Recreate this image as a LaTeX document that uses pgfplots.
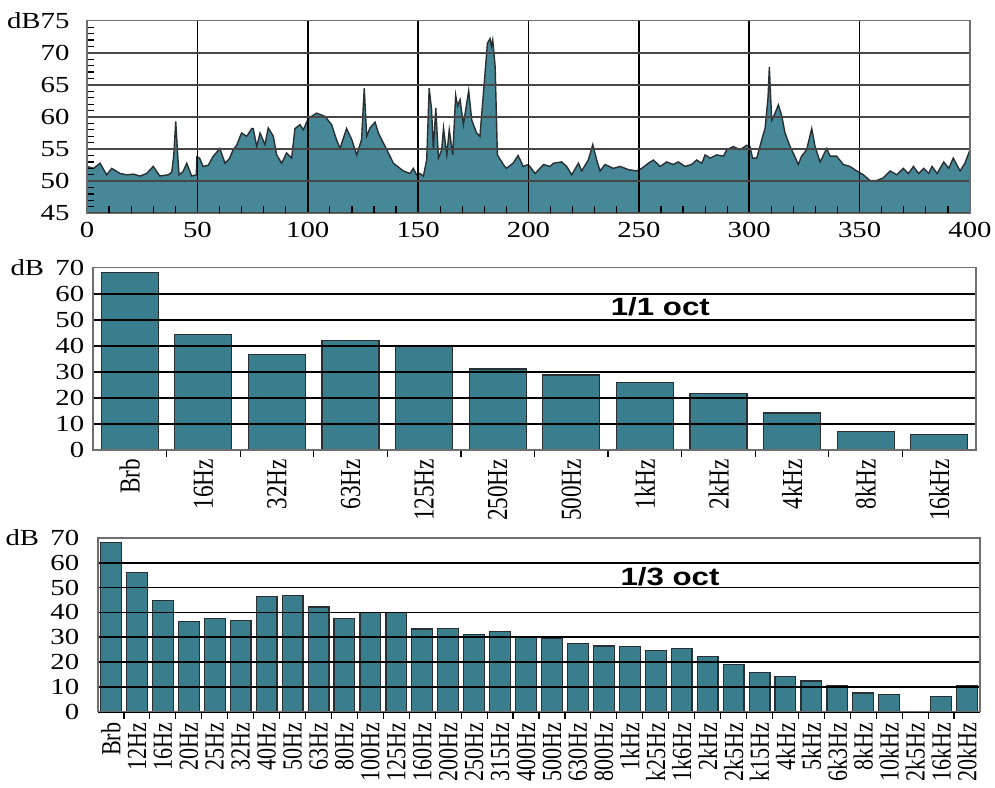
\documentclass[border=0pt]{standalone}
\usepackage{pgfplots}
\pgfplotsset{compat=1.18}
\usepackage{fontspec}
\setmainfont{Liberation Serif}
\newfontfamily\labsans{Liberation Sans}
\newfontfamily\narrowserif[FakeStretch=0.8]{Liberation Serif}
\definecolor{tealfill}{RGB}{58,126,142}
\definecolor{areafill}{RGB}{70,136,151}
\definecolor{edge}{RGB}{40,48,52}
\definecolor{gridc}{RGB}{70,70,70}
\definecolor{framec}{RGB}{110,110,110}
\pgfplotsset{
  common/.style={
    scale only axis, anchor=south west,
    axis line style={framec, line width=0.7pt},
    tick pos=left, tick align=inside,
    major tick length=0pt, minor tick length=3.5pt,
    every minor tick/.style={black, line width=0.6pt},
    axis on top,
    tick label style={font=\fontsize{11.5}{12}\selectfont},
  },
  hlab/.style={xscale=1.25},
}
\begin{document}
\begin{tikzpicture}
\useasboundingbox (0,0) rectangle (497.5pt,393.5pt);
% ---------------- top: spectrum ----------------
\begin{axis}[common,
  at={(43.5pt,286.85pt)}, width=441.5pt, height=96.3pt,
  xmin=0, xmax=400, ymin=45, ymax=75,
  xtick={0,50,...,400}, xticklabels={0,50,100,150,200,250,300,350,400},
  ytick={45,50,...,75}, yticklabels={45,50,55,60,65,70,dB75},
  minor x tick num=4, minor y tick num=4,
  xmajorgrids, ymajorgrids,
  x grid style={black, line width=0.8pt},
  y grid style={gridc, line width=0.8pt},
  xticklabel style={hlab, yshift=-1pt},
  yticklabel style={hlab, xshift=-3.5pt},
]
\addplot[fill=areafill, draw=edge, line width=0.7pt] coordinates {
(0,52.3)(3,52.0)(5.9,52.8)(8.9,51.0)(11.2,52.0)(15,51.2)(18,51.0)(21,51.1)(24,50.8)(27,51.2)
(30,52.3)(33,50.8)(36.8,51.0)(38.4,51.4)(39.3,54)(40.2,59.3)(41.1,54)(41.7,51.0)(43.5,51.5)(45.2,52.8)
(47.4,50.8)(49.5,51.0)(49.8,53.8)(51,53.6)(52.6,52.3)(55,52.5)(57,53.8)(60.2,55.1)(62.5,52.8)(64.5,53.5)
(66.2,54.9)(67.8,55.6)(70,57.5)(72.4,57.0)(74.6,58.2)(75.3,58.2)(76.9,55.4)(78.4,57.5)(80.6,55.7)(82.1,58.3)
(84.4,57)(85.9,54.1)(88.2,52.8)(90.4,54.4)(92.7,53.6)(94.2,58.2)(96.5,58.8)(98,58.0)(100.3,59.8)(104,60.6)
(107.8,60.1)(110.8,58.8)(113,56.5)(114.6,55.1)(117.6,58.2)(119.9,56.5)(122.2,54.1)(124.4,56.5)(125.2,62)(125.6,64.5)
(126.1,61)(126.7,57)(128.2,58.3)(130.5,59.2)(132,57.5)(135.8,54.9)(138.8,52.8)(143.3,51.6)(146.3,51.2)(147.8,52)
(149.3,51)(150.8,51.2)(152.4,50.8)(153.9,53.4)(155,64.5)(156.1,61.1)(156.9,54.9)(158,61.4)(159.2,53.6)(160.7,54.9)
(161.5,58.3)(163,54.1)(164.1,58)(165.7,54.1)(167,63.4)(167.9,61.7)(169,62.7)(170.5,58.8)(172.9,64.1)(174.3,59.5)
(176.5,57.5)(178,57)(179.5,63.4)(181.4,71.5)(182.6,72.2)(183.2,71)(183.8,72)(184.9,67.8)(185.9,54.1)(188.6,52.6)
(190,52)(193,52.8)(195.3,54)(197.6,52.3)(199.9,52.6)(203,51.2)(206.8,52.6)(209.8,52.3)(211.3,52.8)(215,53)
(217.3,52.3)(219.6,51)(222.6,52.8)(224.1,51.6)(227.1,53.3)(229.1,55.7)(230.9,53.3)(232.4,51.6)(234.7,52.6)(238.4,52)
(241.5,52.3)(245.2,51.8)(249,51.6)(251.3,52)(254.3,52.8)(256.6,53.3)(259.6,52.3)(262.6,53)(265.6,52.6)(267.9,53)
(270.9,52.3)(273.9,52.6)(276.2,53.3)(278.5,52.8)(280,54.1)(282.3,53.6)(285.2,54.1)(288.3,53.9)(289.8,54.9)(292.8,55.4)
(295.8,54.9)(298.9,55.6)(300.3,55.4)(301.5,53.6)(303.4,53.6)(305.7,56.5)(307.2,58.3)(308.5,63)(309.1,67.8)(309.7,63)
(310.2,59.5)(311.7,60.6)(313.2,61.9)(314.7,60.2)(316.2,57.5)(318.5,55.4)(320.7,53.8)(322.2,52.6)(323.7,53.9)(326,54.9)
(328.3,58.2)(329.8,55.4)(332.1,53)(335.1,55.1)(336.6,53.9)(339.6,53.9)(342.6,52.6)(345.6,52.3)(348.7,51.6)(351.7,51)
(354.7,50.1)(357.7,50.1)(360.7,50.5)(363.8,51.6)(366.8,51)(369.8,52)(372.1,51.2)(374.4,52.3)(376.7,51.2)(379,52)
(381.3,51.2)(382.8,52.3)(385.1,51.2)(388.1,53)(390.4,52)(392.4,53.6)(395.5,51.6)(397.7,52.8)(400,54.9)
} \closedcycle;
\end{axis}
% ---------------- middle: 1/1 octave ----------------
\begin{axis}[common,
  at={(46.5pt,168.5pt)}, width=441.5pt, height=91.15pt,
  xmin=-0.5, xmax=11.5, ymin=0, ymax=70,
  xtick={0,...,11},
  xticklabels={Brb,16Hz,32Hz,63Hz,125Hz,250Hz,500Hz,1kHz,2kHz,4kHz,8kHz,16kHz},
  minor xtick={0.5,1.5,...,10.5},
  ytick={0,10,...,70}, yticklabels={0,10,20,30,40,50,60,dB\hspace{4.5pt}70},
  ymajorgrids, y grid style={black, line width=0.8pt},
  xticklabel style={rotate=90, anchor=east, xshift=-1pt, font=\narrowserif\fontsize{14.5}{15}\selectfont},
  yticklabel style={hlab},
  ybar, bar width=28.5pt,
]
\addplot[fill=tealfill, draw=edge, line width=0.6pt] coordinates {
(0,68.1)(1,44.4)(2,36.7)(3,42.0)(4,39.7)(5,31.1)(6,28.8)(7,25.9)(8,21.8)(9,14.2)(10,7.2)(11,5.9)
};
\node[font=\labsans\bfseries\fontsize{12.5}{14}\selectfont, xscale=1.25] at (axis cs:7.21,55) {1/1 oct};
\end{axis}
% ---------------- bottom: 1/3 octave ----------------
\begin{axis}[common,
  at={(49pt,37.65pt)}, width=441pt, height=86.85pt,
  xmin=-0.5, xmax=33.5, ymin=0, ymax=70,
  xtick={0,...,33},
  xticklabels={Brb,12Hz,16Hz,20Hz,25Hz,32Hz,40Hz,50Hz,63Hz,80Hz,100Hz,125Hz,160Hz,200Hz,250Hz,315Hz,400Hz,500Hz,630Hz,800Hz,1kHz,k25Hz,1k6Hz,2kHz,2k5Hz,k15Hz,4kHz,5kHz,6k3Hz,8kHz,10kHz,2k5Hz,16kHz,20kHz},
  minor xtick={0.5,1.5,...,32.5},
  ytick={0,10,...,70}, yticklabels={0,10,20,30,40,50,60,dB\hspace{4.5pt}70},
  ymajorgrids, y grid style={black, line width=0.8pt},
  xticklabel style={rotate=90, anchor=east, xshift=-2pt, font=\narrowserif\fontsize{13.8}{14}\selectfont},
  yticklabel style={hlab, xshift=-4pt},
  ybar, bar width=10.4pt,
]
\addplot[fill=tealfill, draw=edge, line width=0.6pt] coordinates {
(0,68.1)(1,56.2)(2,44.8)(3,36.3)(4,37.5)(5,36.8)(6,46.4)(7,46.8)(8,42.2)(9,37.5)
(10,40.1)(11,39.9)(12,33.3)(13,33.5)(14,31.1)(15,32.2)(16,30.2)(17,29.6)(18,27.6)(19,26.5)
(20,26.2)(21,24.6)(22,25.6)(23,22.2)(24,19.1)(25,15.7)(26,14.1)(27,12.4)(28,10.4)(29,7.5)
(30,6.9)(32,6.1)(33,10.6)
};
\node[font=\labsans\bfseries\fontsize{12.5}{14}\selectfont, xscale=1.25] at (axis cs:21.55,54.4) {1/3 oct};
\end{axis}
\end{tikzpicture}
\end{document}
